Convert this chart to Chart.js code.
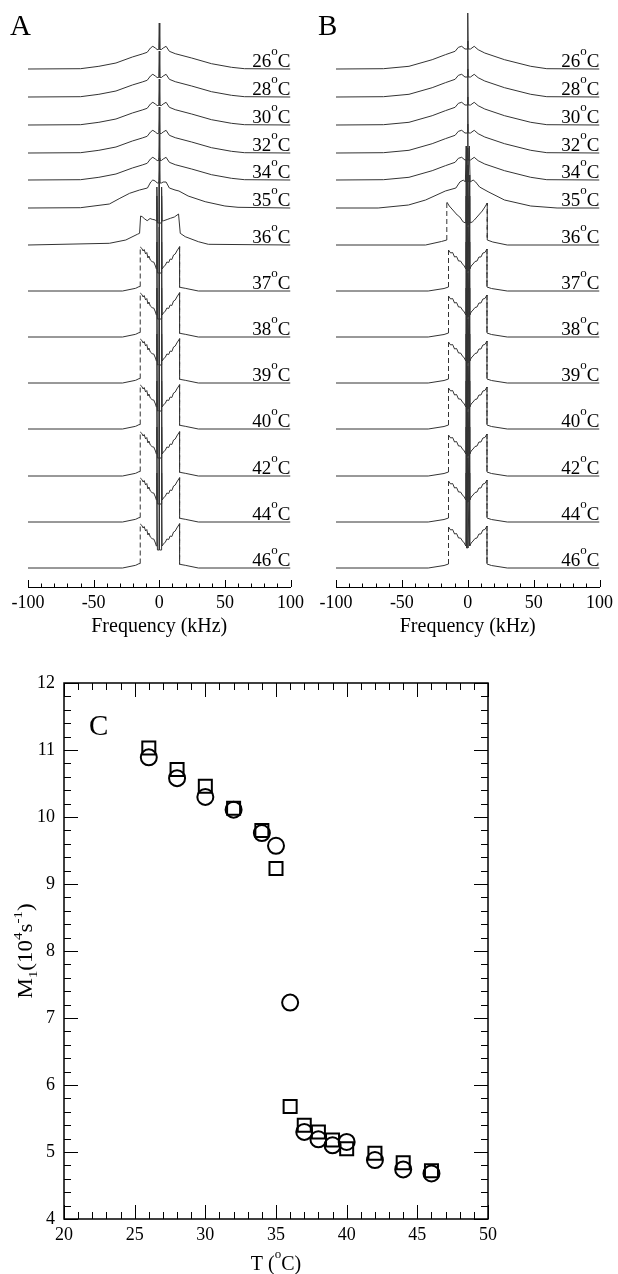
<!DOCTYPE html>
<html>
<head>
<meta charset="utf-8">
<script src="https://cdn.jsdelivr.net/npm/chart.js@4.4.1/dist/chart.umd.min.js"></script>
<style>
  html, body { margin: 0; padding: 0; background: #fff; }
  body { width: 618px; height: 1274px; position: relative; overflow: hidden; }
  canvas { position: absolute; }
  #panelA { left: 0; top: 0; }
  #panelB { left: 309px; top: 0; }
  #panelC { left: 0; top: 650px; }
</style>
</head>
<body>
<canvas id="panelA" width="309" height="650"></canvas>
<canvas id="panelB" width="309" height="650"></canvas>
<canvas id="panelC" width="618" height="624"></canvas>
<script>
const SERIF = "'Liberation Serif', 'Times New Roman', serif";
Chart.defaults.font.family = SERIF;
Chart.defaults.color = '#000';

// temperatures of the stacked spectra, top to bottom
const temps = [26, 28, 30, 32, 34, 35, 36, 37, 38, 39, 40, 42, 44, 46];
// baseline of each spectrum in the stack (a.u.)
const stackOffsets = [518, 490, 462, 434, 407, 379, 342, 296, 250, 204, 158, 111, 65, 19];
// line shape used at each temperature
const shapeOf = ['gel', 'gel', 'gel', 'gel', 'gel', 't35', 't36', 'fluid', 'fluid', 'fluid', 'fluid', 'fluid', 'fluid', 'fluid'];

// panel A shapes: frequency (kHz) / intensity (a.u.)
const gelFreqA = [-100, -60, -46, -33, -20.5, -13, -9.2, -6.7, -4.9, -3, -1.6, -0.4, 0, 0.4, 1.6, 3, 5.2, 7.7, 12.2, 24.7, 39.8, 55, 65, 100];
const gelIntA = [0, 0.3, 2.7, 6, 12, 15, 16.7, 21, 22.7, 21, 19.5, 19.5, 46, 19.5, 19.5, 21, 22.7, 17.7, 15.3, 11, 5.3, 1.7, 0.3, 0];
const t35FreqA = [-100, -60, -38, -30, -22.6, -15, -9, -6.5, -4.9, -3, -1.6, -0.4, 0, 0.4, 1.6, 3, 5.2, 7.7, 12, 15, 22, 35, 50, 60, 100];
const t35IntA = [0, 0.3, 4, 9.7, 14.7, 18, 20, 26, 28, 27, 25, 25, 50, 25, 25, 26, 26, 20, 18, 17, 12, 6.3, 2, 0.7, 0];
const t36FreqA = [-100, -38, -25.5, -16.7, -15, -14.2, -13, -11, -9.2, -7, -5.4, -2.9, -2.2, -1.8, -1.4, -0.2, 0, 0.2, 1.4, 1.8, 2.2, 3.4, 6, 8.5, 11.5, 14.7, 16, 19.8, 29.8, 37.4, 100];
const t36IntA = [0, 1.7, 5, 10.7, 11.7, 29, 28.3, 26, 24.3, 26.5, 25.7, 25, 24, 58, 22, 22, 62, 22, 22, 58, 24, 24.3, 25.5, 26.7, 28, 31, 11.7, 8.3, 3.3, 0.7, 0];
const fluidFreqA = [-100, -28, -18, -15.5, -14.5, -14.5, -13.2, -12.3, -11.5, -10.4, -9.5, -8.6, -7.9, -6.8, -5.4, -4.2, -2.9, -2.2, -1.8, -1.4, -0.2, 0, 0.2, 1.4, 1.8, 2.2, 3.2, 4.7, 5.8, 7.2, 8.3, 9.6, 10.9, 12.2, 13.4, 15.5, 15.5, 16.5, 19.8, 29.8, 100];
const fluidIntA = [0, 0, 2.7, 4.3, 4.5, 44, 42.5, 40, 41.5, 37, 38.5, 33, 35, 31, 29.3, 29, 25, 22, 95, 18, 18, 110, 18, 18, 95, 22, 24, 26, 29, 28.5, 32, 31.5, 36, 37, 40, 44.3, 3.7, 3.5, 2.7, 0, 0];

// panel B shapes
const gelFreqB = [-100, -64, -44.6, -27, -17, -9.6, -7.1, -4.6, -2.1, -0.3, 0, 0.3, 2.1, 4.9, 7.9, 12.9, 27.9, 47.8, 60, 100];
const gelIntB = [0, 0.3, 2.7, 9.3, 14.3, 17.7, 21.7, 22.7, 20, 20, 56, 20, 20, 22.7, 19.3, 16, 9.3, 2.7, 0.3, 0];
const t35FreqB = [-100, -68, -45, -32, -17, -9, -6, -3.3, -1.8, -1.2, -0.9, -0.3, 0, 0.3, 0.9, 1.2, 1.8, 4.1, 6, 9, 15.4, 27.9, 47.8, 67.8, 100];
const t35IntB = [0, 0, 3, 8, 17, 20, 26, 28, 26, 62, 26, 26, 60, 26, 26, 62, 26, 28, 26, 21, 16.3, 8, 2, 0, 0];
const t36FreqB = [-100, -32, -20, -15.9, -15.9, -14, -12, -10, -8, -6, -4.5, -3.4, -1.5, -1.2, -0.9, -0.2, 0, 0.2, 0.9, 1.2, 1.5, 3.4, 5, 7, 9, 11, 13, 14.8, 14.8, 19, 30, 100];
const t36IntB = [0, 0, 3.5, 5, 43, 39, 36, 33, 30, 28, 25, 23, 22, 70, 20, 20, 80, 20, 20, 70, 22, 23, 25, 28, 31, 34, 38, 42, 5, 3, 0, 0];
const fluidFreqB = [-100, -30, -18, -14.6, -14.6, -13, -11.5, -10, -8.5, -7, -5.5, -4, -2.6, -1.5, -1.2, -0.9, -0.2, 0, 0.2, 0.9, 1.2, 1.5, 2.6, 4, 5.5, 7, 8.5, 10, 11.5, 13, 14.6, 14.6, 18, 30, 100];
const fluidIntB = [0, 0, 2.5, 4, 41, 38, 38.5, 34, 34.5, 30, 30, 27, 25, 22, 95, 20, 20, 110, 20, 20, 95, 22, 25, 27, 29.5, 30, 34, 34, 38, 38.5, 42, 4, 2.5, 0, 0];

// panel C: first moment M1 (10^4 s^-1) vs T
const tempC = [26, 28, 30, 32, 34, 35, 36, 37, 38, 39, 40, 42, 44, 46];
const m1Circles = [10.89, 10.58, 10.30, 10.11, 9.76, 9.57, 7.23, 5.30, 5.19, 5.10, 5.15, 4.88, 4.74, 4.68];
const m1Squares = [11.03, 10.71, 10.46, 10.13, 9.80, 9.23, 5.68, 5.40, 5.30, 5.18, 5.05, 4.98, 4.84, 4.72];

// text with super/subscripts: parts = [text, size, shift]
function drawRun(ctx, parts, x, y, align) {
  let total = 0;
  parts.forEach(p => { ctx.font = p[1] + 'px ' + SERIF; total += ctx.measureText(p[0]).width; });
  let cx = align === 'right' ? x - total : align === 'center' ? x - total / 2 : x;
  ctx.textAlign = 'left';
  ctx.textBaseline = 'alphabetic';
  ctx.fillStyle = '#000';
  parts.forEach(p => {
    ctx.font = p[1] + 'px ' + SERIF;
    ctx.fillText(p[0], cx, y + p[2]);
    cx += ctx.measureText(p[0]).width;
  });
}

const spectraDecor = {
  id: 'spectraDecor',
  afterDraw(chart, args, opts) {
    const {ctx, chartArea} = chart;
    const x = chart.scales.x, y = chart.scales.y;
    ctx.save();
    ctx.strokeStyle = '#000';
    ctx.lineWidth = 1;
    for (let f = -100; f <= 100; f += 10) {
      const px = Math.round(x.getPixelForValue(f)) + 0.5;
      const len = f % 50 === 0 ? 7 : 3.5;
      ctx.beginPath();
      ctx.moveTo(px, chartArea.bottom);
      ctx.lineTo(px, chartArea.bottom - len);
      ctx.stroke();
    }
    chart.data.datasets.forEach((ds, i) => {
      const by = y.getPixelForValue(stackOffsets[i]) - 2.5;
      drawRun(ctx, [[ds.label, 19, 0], ['o', 13, -12], ['C', 19, 0]], x.right, by, 'right');
    });
    ctx.font = '29px ' + SERIF;
    ctx.fillText(opts.letter, chartArea.left - 18, 35);
    ctx.restore();
  }
};

function spectraChart(id, shapes, letter, padLeft, padRight) {
  const datasets = temps.map((t, i) => {
    const s = shapes[shapeOf[i]];
    return {
      label: String(t),
      data: s.freq.map((f, k) => ({x: f, y: stackOffsets[i] + s.int[k]})),
      borderColor: '#333',
      borderWidth: 1,
      pointRadius: 0,
      tension: 0,
      fill: false,
      segment: {
        borderDash: c => Math.abs(c.p0.x - c.p1.x) < 0.01 ? [5, 3] : undefined
      }
    };
  });
  return new Chart(document.getElementById(id), {
    type: 'line',
    data: {datasets},
    options: {
      responsive: false,
      animation: false,
      layout: {padding: {left: padLeft, right: padRight, top: 0, bottom: 0}},
      plugins: {legend: {display: false}, tooltip: {enabled: false}, spectraDecor: {letter}},
      scales: {
        x: {
          type: 'linear', min: -100, max: 100,
          grid: {display: false, drawTicks: false},
          border: {display: true, color: '#000', width: 1},
          ticks: {stepSize: 50, font: {size: 18}, color: '#000', padding: 5, maxRotation: 0, autoSkip: false},
          title: {display: true, text: 'Frequency (kHz)', font: {size: 20}, color: '#000', padding: {top: 0, bottom: 11}},
          afterFit: s => { s.height = 63; }
        },
        y: {type: 'linear', min: 0, max: 587, display: false}
      }
    },
    plugins: [spectraDecor]
  });
}

spectraChart('panelA', {
  gel: {freq: gelFreqA, int: gelIntA},
  t35: {freq: t35FreqA, int: t35IntA},
  t36: {freq: t36FreqA, int: t36IntA},
  fluid: {freq: fluidFreqA, int: fluidIntA}
}, 'A', 28, 16);

spectraChart('panelB', {
  gel: {freq: gelFreqB, int: gelIntB},
  t35: {freq: t35FreqB, int: t35IntB},
  t36: {freq: t36FreqB, int: t36IntB},
  fluid: {freq: fluidFreqB, int: fluidIntB}
}, 'B', 27, 15);

// frame, inward ticks on all sides, titles
const frameTicks = {
  id: 'frameTicks',
  afterDraw(chart) {
    const {ctx, chartArea: a} = chart;
    const x = chart.scales.x, y = chart.scales.y;
    ctx.save();
    ctx.strokeStyle = '#000';
    ctx.lineWidth = 1.5;
    ctx.strokeRect(a.left, a.top, a.right - a.left, a.bottom - a.top);
    ctx.lineWidth = 1;
    ctx.beginPath();
    for (let t = 20; t <= 50; t++) {
      const px = Math.round(x.getPixelForValue(t)) + 0.5;
      const len = t % 5 === 0 ? 14 : 7;
      ctx.moveTo(px, a.bottom); ctx.lineTo(px, a.bottom - len);
      ctx.moveTo(px, a.top); ctx.lineTo(px, a.top + len);
    }
    for (let k = 20; k <= 60; k++) {
      const py = Math.round(y.getPixelForValue(k / 5)) + 0.5;
      const len = k % 5 === 0 ? 14 : 7;
      ctx.moveTo(a.left, py); ctx.lineTo(a.left + len, py);
      ctx.moveTo(a.right, py); ctx.lineTo(a.right - len, py);
    }
    ctx.stroke();

    ctx.font = '29px ' + SERIF;
    ctx.fillStyle = '#000';
    ctx.fillText('C', a.left + 25, a.top + 52);

    drawRun(ctx, [['T (', 20, 0], ['o', 13, -12], ['C)', 20, 0]], (a.left + a.right) / 2, 620, 'center');

    ctx.translate(32, (a.top + a.bottom) / 2);
    ctx.rotate(-Math.PI / 2);
    ctx.scale(1.15, 1);
    drawRun(ctx, [['M', 20, 0], ['1', 13, 5], ['(10', 20, 0], ['4', 13, -10], ['s', 20, 0], ['-1', 13, -10], [')', 20, 0]], 0, 0, 'center');
    ctx.restore();
  }
};

new Chart(document.getElementById('panelC'), {
  type: 'scatter',
  data: {
    datasets: [
      {
        label: 'squares',
        data: tempC.map((t, i) => ({x: t, y: m1Squares[i]})),
        pointStyle: 'rect', pointRadius: 9.2,
        borderColor: '#000', backgroundColor: 'rgba(0,0,0,0)', borderWidth: 2
      },
      {
        label: 'circles',
        data: tempC.map((t, i) => ({x: t, y: m1Circles[i]})),
        pointStyle: 'circle', pointRadius: 8,
        borderColor: '#000', backgroundColor: 'rgba(0,0,0,0)', borderWidth: 2
      }
    ]
  },
  options: {
    responsive: false,
    animation: false,
    layout: {padding: {left: 0, right: 130, top: 33, bottom: 0}},
    plugins: {legend: {display: false}, tooltip: {enabled: false}},
    scales: {
      x: {
        type: 'linear', min: 20, max: 50,
        grid: {display: false, drawTicks: false}, border: {display: false},
        ticks: {stepSize: 5, font: {size: 18}, color: '#000', padding: 5, maxRotation: 0},
        afterFit: s => { s.height = 55; }
      },
      y: {
        type: 'linear', min: 4, max: 12,
        grid: {display: false, drawTicks: false}, border: {display: false},
        ticks: {stepSize: 1, font: {size: 18}, color: '#000', padding: 9},
        afterFit: s => { s.width = 64; }
      }
    }
  },
  plugins: [frameTicks]
});
</script>
</body>
</html>
